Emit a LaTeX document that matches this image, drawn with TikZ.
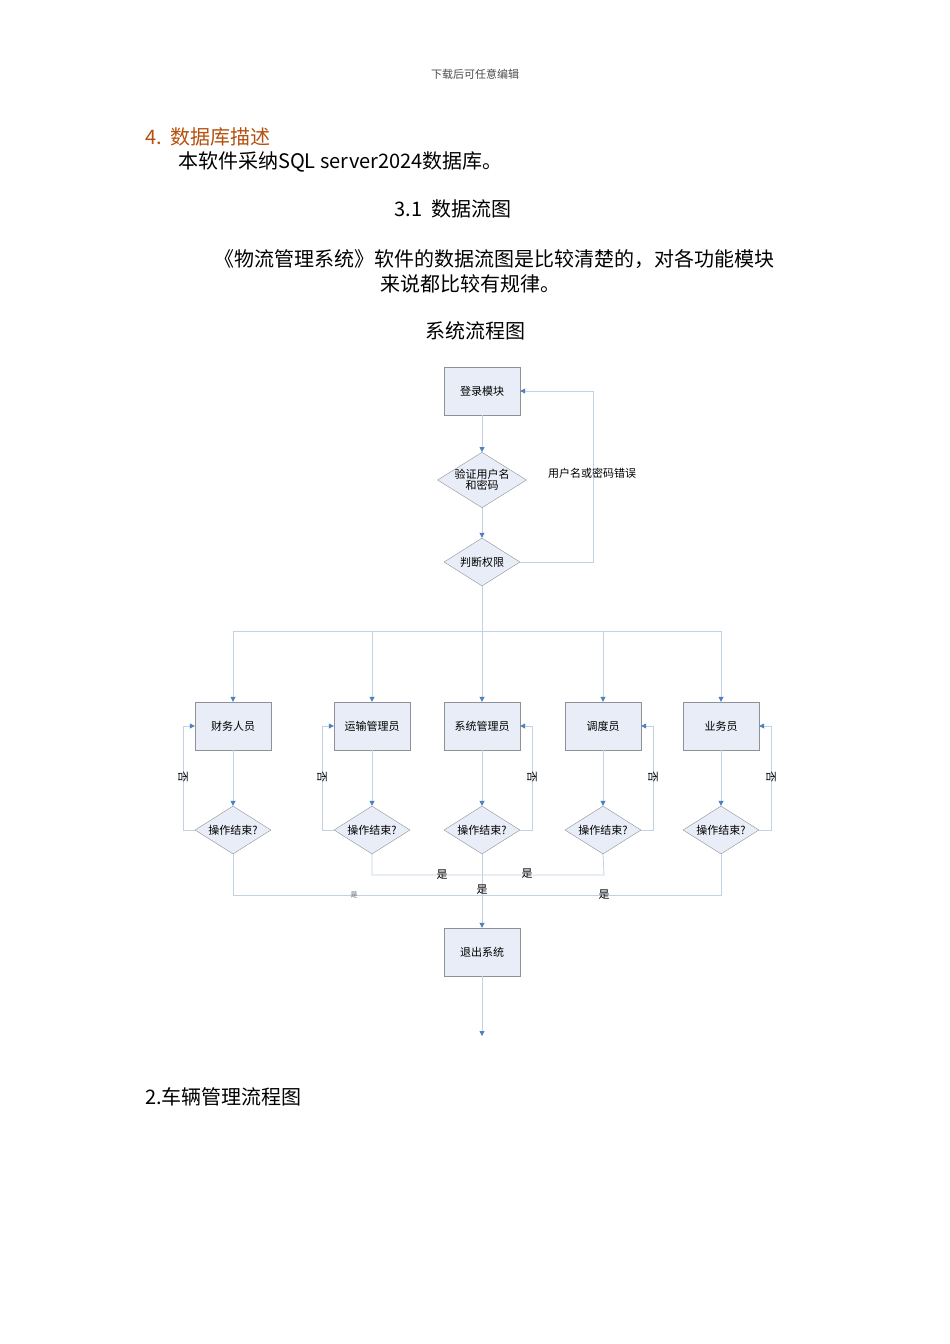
\documentclass[tikz,border=0pt]{standalone}
\usepackage{fontspec}
\setmainfont{Noto Sans CJK SC}
\usetikzlibrary{shapes.geometric,arrows.meta}
\definecolor{boxfill}{HTML}{E9EDF7}
\definecolor{boxline}{HTML}{8E9196}
\definecolor{conn}{HTML}{C3D1E4}
\definecolor{tipc}{HTML}{4F81BD}
\definecolor{headc}{HTML}{B5500F}
\begin{document}
\begin{tikzpicture}[x=1pt,y=-1pt,
  pbox/.style={draw=boxline,fill=boxfill,minimum width=76pt,minimum height=48pt,inner sep=0pt,font=\fontsize{11}{13}\selectfont},
  dbox/.style={diamond,aspect=1.6,draw=boxline,fill=boxfill,minimum width=76pt,minimum height=48pt,inner sep=0pt,font=\fontsize{11}{13}\selectfont,align=center},
  ln/.style={draw=conn,line width=0.8pt},
  ar/.style={ln,-{Triangle[length=5pt,width=5pt,color=tipc]}},
  lbl/.style={font=\fontsize{11}{13}\selectfont,inner sep=1pt},
  body/.style={font=\fontsize{20}{24}\selectfont,inner sep=0pt}]
\useasboundingbox[fill=white] (0,0) rectangle (950,1344);
\node[font=\fontsize{11}{13}\selectfont,text=black!70] (hdr) at (475,74) {下载后可任意编辑};
\node[body,anchor=west,text=headc] (h4) at (145,137) {4.\ \ 数据库描述};
\node[body,anchor=west] (p1) at (178,162) {本软件采纳SQL server2024数据库。};
\node[body] (s31) at (453,209) {3.1\ \ 数据流图};
\node[body] (p2) at (494,259) {《物流管理系统》软件的数据流图是比较清楚的，对各功能模块};
\node[body] (p3) at (470,284) {来说都比较有规律。};
\node[body] (t) at (475,331) {系统流程图};
% top
\node[pbox] (login) at (482,391) {登录模块};
\node[dbox] (ver) at (482,480) {验证用户名\\[-2pt]和密码};
\node[dbox] (judge) at (482,562) {判断权限};
\draw[ar] (login) -- (ver);
\draw[ar] (ver) -- (judge);
\coordinate (lr1) at (593,562);
\coordinate (lr2) at (593,391);
\draw[ar] (judge.east) -- (lr1) -- (lr2) -- (login.east);
\node[lbl] (err) at (592,473) {用户名或密码错误};
% bus
\coordinate (busc) at (482,631);
\coordinate (busl) at (233,631);
\coordinate (busr) at (721,631);
\draw[ln] (judge.south) -- (busc);
\draw[ln] (busl) -- (busr);
\foreach \n/\x/\t in {r1/233/财务人员,r2/372/运输管理员,r3/482/系统管理员,r4/603/调度员,r5/721/业务员}{
  \node[pbox] (\n) at (\x,726) {\t};
  \node[dbox] (d\n) at (\x,830) {操作结束?};
  \coordinate (b\n) at (\x,631);
  \draw[ar] (b\n) -- (\n);
  \draw[ar] (\n) -- (d\n);
}
% no loops
\foreach \n/\x/\s in {r1/183/west,r2/322/west,r3/532/east,r4/653/east,r5/771/east}{
  \coordinate (na\n) at (\x,830);
  \coordinate (nb\n) at (\x,726);
  \draw[ar] (d\n.\s) -- (na\n) -- (nb\n) -- (\n.\s);
  \node[lbl,rotate=-90] (no\n) at (\x,777) {否};
}
% exit
\node[pbox] (exit) at (482,952) {退出系统};
\coordinate (y1) at (372,875); \coordinate (y2) at (604,875);
\coordinate (y3) at (233,895); \coordinate (y4) at (721,895);
\draw[ln] (dr2.south) -- (y1) -- (y2) -- (dr4.south);
\draw[ln] (dr1.south) -- (y3) -- (y4) -- (dr5.south);
\draw[ar] (dr3.south) -- (exit.north);
\node[lbl] (ya) at (442,875) {是};
\node[lbl] (yb) at (527,874) {是};
\node[lbl] (yc) at (482,890) {是};
\node[lbl] (yd) at (604,895) {是};
\node[font=\fontsize{7}{8}\selectfont,text=black!60] (ye) at (354,895) {是};
\coordinate (endp) at (482,1036);
\draw[ar] (exit) -- (endp);
\node[body,anchor=west] (s2) at (145,1097) {2.车辆管理流程图};
\end{tikzpicture}
\end{document}
